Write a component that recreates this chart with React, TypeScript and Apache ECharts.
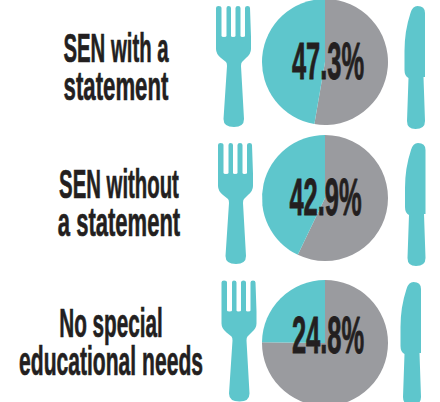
import React, { useEffect, useRef } from "react";
import * as echarts from "echarts";

const categories = [["SEN with a", "statement"], ["SEN without", "a statement"], ["No special", "educational needs"]];
const tealValues = [47.3, 42.9, 24.8];
const percentLabels = ["47.3%", "42.9%", "24.8%"];

const TEAL = "#5EC6CC";
const GREY = "#9A9B9F";
const INK = "#231F20";
const FONT = '"Liberation Sans Narrow", "Liberation Sans", sans-serif';

const pieCenters = [[325, 62], [325, 198], [325, 343]];
const forkAt = [[216, 6], [218, 143], [221.5, 280.5]];
const knifeAt = [[404.5, 6], [405, 143], [400.5, 282]];
const labelCenterX = [116, 119, 111];
const labelLineY = [[48, 86], [184, 222], [323, 361]];
const percentAt = [[328, 62], [325.5, 198], [328, 336]];
const labelScale = [[0.55, 0.6], [0.55, 0.595], [0.56, 0.57]];

const forkPath =
  "M0 2 Q0 0 2.5 0 Q5.5 0 5.5 2 L5.5 30 Q5.5 31 8 31 Q10.5 31 10.5 30 L10.5 2 Q10.5 0 12.5 0 Q15 0 15 2 L15 30 Q15 31 17 31 Q19.5 31 19.5 30 L19.5 2 Q19.5 0 22 0 Q24.5 0 24.5 2 L24.5 30 Q24.5 31 26.5 31 Q29 31 29 30 L29 2 Q29 0 31.5 0 Q34 0 34 2 L35 31 L35 43 Q35 48 30 52 L26 56 Q25 57 25 60 L28 113 Q28 121 18 121 Q7.5 121 7.5 113 L11 60 Q11 57 10 56 L5 52 Q0 48 0 43 Z";
const knifePath =
  "M13 0 Q20.5 0 20.5 7 L20.5 71 L19 71 L20.5 115 Q20.5 123 11 123 Q2.5 123 2.5 115 L4 72 Q0 70 0 64 L0 45 Q0 25 6 7 Q8 0 13 0 Z";

echarts.graphic.registerShape("fork", echarts.graphic.extendPath(forkPath, {}) as any);
echarts.graphic.registerShape("knife", echarts.graphic.extendPath(knifePath, {}) as any);

export default function App() {
  const ref = useRef<HTMLDivElement>(null);
  useEffect(() => {
    const chart = echarts.init(ref.current!, undefined, { renderer: "svg" });
    const graphic: any[] = [];
    tealValues.forEach((_, i) => {
      graphic.push({ type: "fork", x: forkAt[i][0], y: forkAt[i][1], style: { fill: TEAL }, z: 1 });
      graphic.push({ type: "knife", x: knifeAt[i][0], y: knifeAt[i][1], style: { fill: TEAL }, z: 1 });
      categories[i].forEach((line, j) => {
        graphic.push({
          type: "text", x: labelCenterX[i], y: labelLineY[i][j], scaleX: labelScale[i][j], scaleY: 1.1, z: 10,
          style: { text: line, fill: INK, stroke: INK, lineWidth: 0.6, font: `bold 37px ${FONT}`, align: "center", verticalAlign: "middle" },
        });
      });
      graphic.push({
        type: "text", x: percentAt[i][0], y: percentAt[i][1], scaleX: 0.52, scaleY: 1.04, z: 10,
        style: { text: percentLabels[i], fill: INK, stroke: INK, lineWidth: 0.8, font: `bold 49px ${FONT}`, align: "center", verticalAlign: "middle" },
      });
    });
    chart.setOption({
      animation: false,
      backgroundColor: "#ffffff",
      series: tealValues.map((v, i) => ({
        type: "pie",
        center: pieCenters[i],
        radius: [0, 63],
        startAngle: 90,
        clockwise: true,
        silent: true,
        label: { show: false },
        labelLine: { show: false },
        data: [
          { value: 100 - v, name: "Other", itemStyle: { color: GREY } },
          { value: v, name: "Share", itemStyle: { color: TEAL } },
        ],
      })),
      graphic: { elements: graphic },
    });
    return () => chart.dispose();
  }, []);
  return <div ref={ref} style={{ position: "fixed", left: 0, top: 0, width: 440, height: 402 }} />;
}
